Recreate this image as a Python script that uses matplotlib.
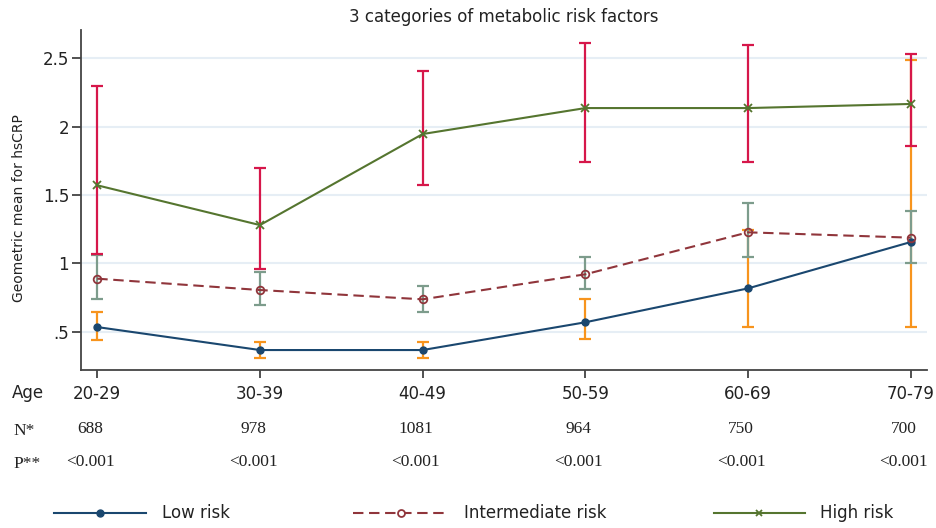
import matplotlib
matplotlib.use("Agg")
import matplotlib.pyplot as plt
from matplotlib.lines import Line2D
import matplotlib.transforms as mtransforms
import numpy as np

plt.rcParams['font.family'] = ['DejaVu Sans']

# ---- data ----
age_groups = ["20-29", "30-39", "40-49", "50-59", "60-69", "70-79"]
n_values = ["688", "978", "1081", "964", "750", "700"]
p_values = ["<0.001", "<0.001", "<0.001", "<0.001", "<0.001", "<0.001"]

low_mean = [0.534, 0.366, 0.366, 0.569, 0.817, 1.156]
low_lo = [0.437, 0.310, 0.310, 0.444, 0.534, 0.534]
low_hi = [0.644, 0.425, 0.425, 0.737, 1.244, 2.488]

mid_mean = [0.888, 0.805, 0.737, 0.920, 1.227, 1.188]
mid_lo = [0.737, 0.695, 0.646, 0.810, 1.044, 1.002]
mid_hi = [1.060, 0.940, 0.837, 1.044, 1.444, 1.383]

high_mean = [1.571, 1.280, 1.946, 2.136, 2.136, 2.166]
high_lo = [1.070, 0.956, 1.570, 1.744, 1.744, 1.858]
high_hi = [2.300, 1.700, 2.410, 2.610, 2.600, 2.530]

y_ticks = [0.5, 1.0, 1.5, 2.0, 2.5]
y_tick_labels = [".5", "1", "1.5", "2", "2.5"]

title = "3 categories of metabolic risk factors"
ylabel = "Geometric mean for hsCRP"
series_names = ["Low risk", "Intermediate risk", "High risk"]

# ---- styles ----
c_low, c_mid, c_high = "#1a476f", "#90353b", "#55752f"
c_low_ci, c_mid_ci, c_high_ci = "#f7941d", "#7d9c8c", "#d6174a"

W, H = 937, 528
fig = plt.figure(figsize=(W / 100, H / 100), dpi=100)
ax = fig.add_axes([81 / W, 1 - 370 / H, (927 - 81) / W, (370 - 30) / H])

x = np.arange(len(age_groups))

def ci(ax, mean, lo, hi, color, z):
    mean = np.asarray(mean); lo = np.asarray(lo); hi = np.asarray(hi)
    ax.errorbar(x, mean, yerr=[mean - lo, hi - mean], fmt='none', ecolor=color,
                elinewidth=1.6, capsize=4, capthick=1.6, zorder=z)

ci(ax, low_mean, low_lo, low_hi, c_low_ci, 2)
ci(ax, mid_mean, mid_lo, mid_hi, c_mid_ci, 3)
ci(ax, high_mean, high_lo, high_hi, c_high_ci, 4)

ax.plot(x, low_mean, color=c_low, lw=1.5, marker='o', ms=5, zorder=5)
ax.plot(x, mid_mean, color=c_mid, lw=1.5, ls=(0, (5, 2.7)), marker='o', ms=5.5,
        mfc='none', mew=1.3, zorder=5)
ax.plot(x, high_mean, color=c_high, lw=1.5, marker='x', ms=6, mew=1.3, zorder=5)

ax.set_xlim(-0.1, 5.1)
ax.set_ylim(0.22, 2.707)
ax.set_yticks(y_ticks)
ax.set_yticklabels(y_tick_labels, fontsize=12)
ax.set_xticks(x)
ax.set_xticklabels(age_groups, fontsize=12)
ax.tick_params(axis='y', length=6.5, width=1.2, pad=2, colors='#333333', labelcolor='#222222')
ax.tick_params(axis='x', length=6, width=1.2, pad=5, colors='#333333', labelcolor='#222222')
for s in ['top', 'right']:
    ax.spines[s].set_visible(False)
for s in ['left', 'bottom']:
    ax.spines[s].set_linewidth(1.3)
    ax.spines[s].set_color('#444444')
ax.grid(axis='y', color='#e6eef5', lw=1.5, zorder=0)
ax.set_axisbelow(True)

ax.set_title(title, fontsize=12, pad=6, color='#222222')
ax.set_ylabel(ylabel, fontsize=10, color='#222222')
ax.yaxis.set_label_coords(-0.065, 0.475)

# table rows below the axis
fig.text(12 / W, 1 - 393 / H, "Age", fontsize=12, ha='left', va='center', color='#222222')
fig.text(13 / W, 1 - 431 / H, "N*", fontsize=12.5, ha='left', va='center',
         family='Liberation Serif', color='#222222')
fig.text(13 / W, 1 - 464 / H, "P**", fontsize=12.5, ha='left', va='center',
         family='Liberation Serif', color='#222222')
trans = mtransforms.blended_transform_factory(ax.transData, fig.transFigure)
off = mtransforms.ScaledTranslation(-7 / 100, 0, fig.dpi_scale_trans)
for xi, nv, pv in zip(x, n_values, p_values):
    fig.text(xi, 1 - 429 / H, nv, transform=trans + off, fontsize=12.5, ha='center',
             va='center', family='Liberation Serif', color='#222222')
    fig.text(xi, 1 - 462 / H, pv, transform=trans + off, fontsize=12.5, ha='center',
             va='center', family='Liberation Serif', color='#222222')

# legend (manual)
leg_y = 1 - 513 / H
leg_items = [
    (54, 146, 162, dict(color=c_low, lw=1.5), dict(marker='o', ms=5, color=c_low)),
    (353, 449, 464, dict(color=c_mid, lw=1.5, ls=(0, (5, 2.7))),
     dict(marker='o', ms=5, mfc='white', mew=1.3, color=c_mid)),
    (714, 805, 820, dict(color=c_high, lw=1.5), dict(marker='x', ms=5, mew=1.3, color=c_high)),
]
for (x0, x1, xt, lkw, mkw), name in zip(leg_items, series_names):
    fig.add_artist(Line2D([x0 / W, x1 / W], [leg_y, leg_y], transform=fig.transFigure, **lkw))
    fig.add_artist(Line2D([(x0 + x1) / 2 / W], [leg_y], transform=fig.transFigure,
                          ls='none', **mkw))
    fig.text(xt / W, leg_y, name, fontsize=12, ha='left', va='center', color='#222222')

fig.savefig("out.png", dpi=100)
